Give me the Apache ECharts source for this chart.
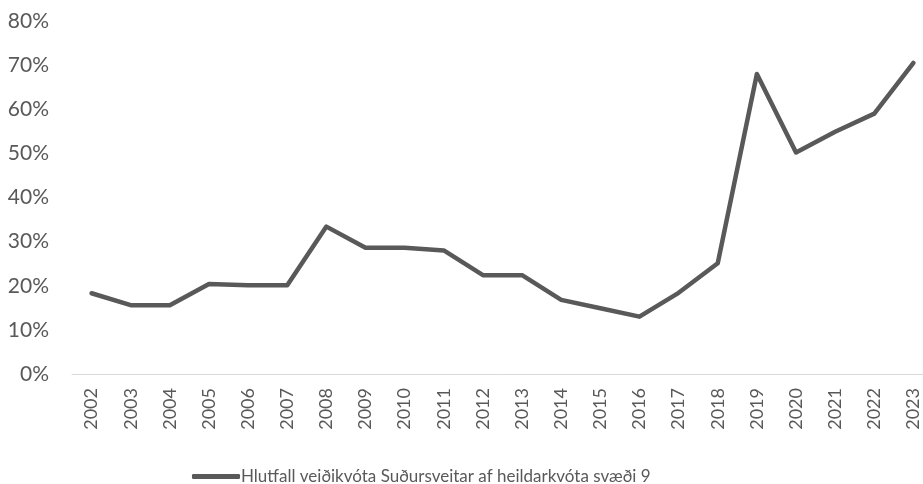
<!DOCTYPE html>
<html>
<head>
<meta charset="utf-8">
<script src="https://cdn.jsdelivr.net/npm/echarts@6/dist/echarts.min.js"></script>
<style>
html,body{margin:0;padding:0;background:#fff;}
#chart{width:923px;height:484px;}
</style>
</head>
<body>
<div id="chart"></div>
<script>
const years = ['2002','2003','2004','2005','2006','2007','2008','2009','2010','2011','2012','2013','2014','2015','2016','2017','2018','2019','2020','2021','2022','2023'];
const shareValues = [18.3,15.6,15.6,20.4,20.1,20.1,33.4,28.6,28.6,28.0,22.4,22.4,16.8,14.9,13.0,18.4,25.1,68.0,50.2,54.9,59.0,70.5];
const seriesName = 'Hlutfall veiðikvóta Suðursveitar af heildarkvóta svæði 9';
const yMin = 0, yMax = 80, yStep = 10;

const FONT = "Lato, 'Open Sans', sans-serif";
const chart = echarts.init(document.getElementById('chart'), null, {renderer:'canvas'});
chart.setOption({
  animation: false,
  backgroundColor: '#ffffff',
  grid: {left: 72, top: 21, width: 861, height: 353, containLabel: false, outerBoundsMode: 'none'},
  legend: {
    show: true,
    left: 187, top: 463,
    itemWidth: 48, itemHeight: 5, itemGap: 10,
    icon: 'roundRect',
    textStyle: {color: '#595959', fontSize: 17, fontFamily: FONT, padding: [0,0,0,-4]},
    data: [seriesName]
  },
  xAxis: {
    type: 'category',
    data: years,
    boundaryGap: true,
    axisLine: {show: true, lineStyle: {color: '#d9d9d9', width: 1}},
    axisTick: {show: false},
    axisLabel: {rotate: 90, margin: 14, color: '#595959', fontSize: 18, fontFamily: FONT, interval: 0},
    splitLine: {show: false}
  },
  yAxis: {
    type: 'value',
    min: yMin, max: yMax, interval: yStep,
    axisLine: {show: false},
    axisTick: {show: false},
    splitLine: {show: false},
    axisLabel: {formatter: '{value}%', margin: 23, color: '#595959', fontSize: 21, fontFamily: FONT}
  },
  series: [{
    name: seriesName,
    type: 'line',
    data: shareValues,
    showSymbol: false,
    symbol: 'none',
    color: '#595959',
    lineStyle: {color: '#595959', width: 4.5, cap: 'round', join: 'round'}
  }]
});
</script>
</body>
</html>
